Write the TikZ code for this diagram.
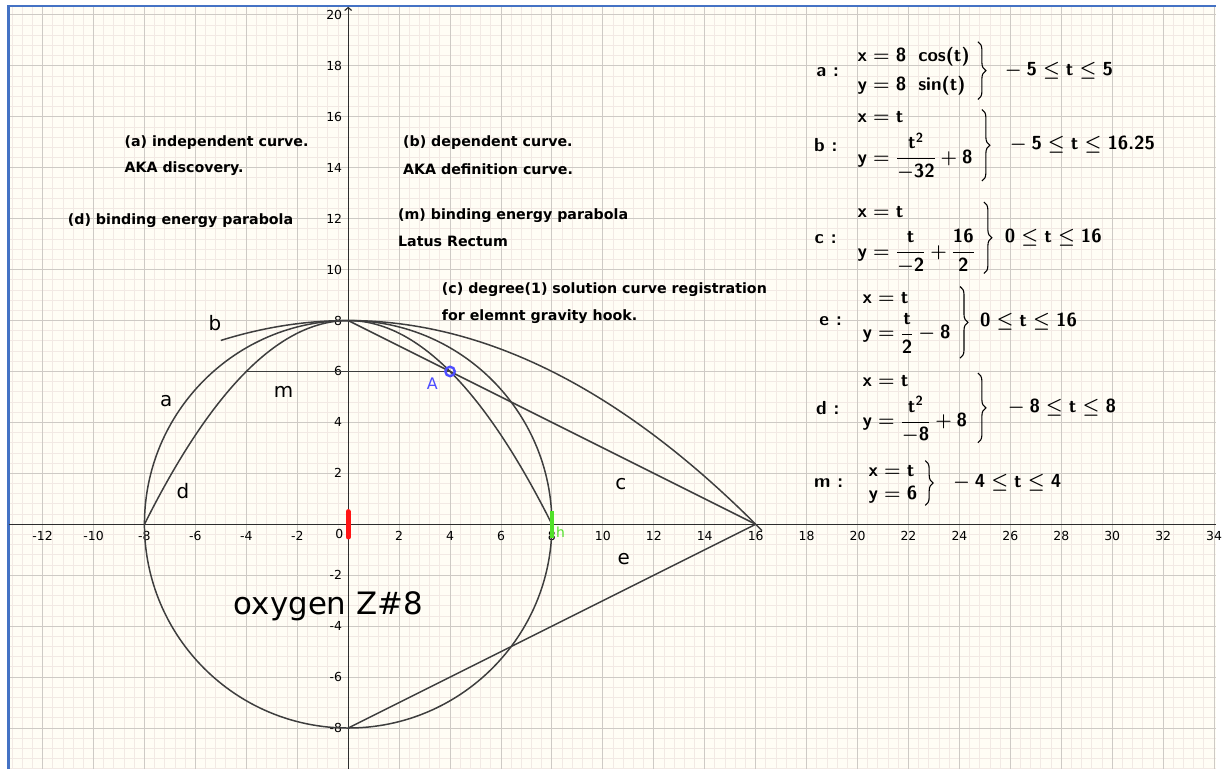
\RequirePackage{fix-cm}
\documentclass[tikz,border=0pt]{standalone}
\usepackage{amsmath}
\usepackage{fontspec}
\newfontfamily\dv{DejaVu Sans}
\usetikzlibrary{arrows.meta,decorations.pathreplacing}
\definecolor{bgc}{RGB}{255,253,245}
\definecolor{minorc}{RGB}{242,233,228}
\definecolor{majorc}{RGB}{206,202,197}
\definecolor{framec}{RGB}{68,114,196}
\definecolor{curvec}{RGB}{62,62,62}
\definecolor{axisc}{RGB}{45,45,45}
\definecolor{ptc}{RGB}{77,77,255}
\definecolor{redc}{RGB}{255,20,20}
\definecolor{greenc}{RGB}{80,225,40}
\newcommand\tx[1]{\text{#1}}
\begin{document}
\begin{tikzpicture}[x=25.6pt,y=25.6pt,
  px/.style={x=1pt,y=-1pt,shift={(-350pt,527pt)}},
  curve/.style={curvec,line width=1.5pt},
  axisline/.style={axisc,line width=1.2pt},
  tick/.style={font=\dv\fontsize{12.5}{15}\selectfont,inner sep=0pt},
  lab/.style={font=\dv\bfseries\fontsize{14.3}{17}\selectfont,anchor=west,inner sep=0pt},
  cl/.style={font=\dv\fontsize{20}{24}\selectfont,inner sep=0pt},
  fm/.style={font=\fontsize{19}{22}\selectfont\sffamily\bfseries\mathversion{bold},inner sep=0pt,anchor=west},
  fname/.style={font=\fontsize{19}{22}\selectfont\sffamily\bfseries,inner sep=0pt},
  brc/.style={draw=black,line width=1.1pt,decorate,decoration={brace,amplitude=8pt}}]
% background and frame
\begin{scope}[px]
  \useasboundingbox (0,0) rectangle (1222,773);
  \fill[white] (0,0) rectangle (1222,773);
  \fill[bgc] (8.7,6.2) rectangle (1222,773);
\end{scope}
\begin{scope}
  \clip (-13.33,-9.61) rectangle (34.07,20.34);
  \draw[minorc,line width=0.9pt,step=0.4] (-13.68,-9.61) grid (34.07,20.59);
  \draw[majorc,line width=1pt,step=2] (-13.68,-9.61) grid (34.07,20.59);
\end{scope}
\begin{scope}[px]
  \draw[framec,line width=2.6pt] (8.7,773) -- (8.7,6.2) -- (1222,6.2);
\end{scope}
% axes
\coordinate (xl) at (-13.33,0);
\coordinate (xr) at (34.07,0);
\coordinate (yb) at (0,-9.61);
\coordinate (yt) at (0,20.32);
\draw[axisline] (xl) -- (xr);
\draw[axisline,-{Straight Barb[length=3pt,width=7pt]}] (yb) -- (yt);
\foreach \v in {-12,-10,...,-2,2,4,...,34} \node[tick] (xt\v) at (\v,-0.45) {\v};
\foreach \v in {-8,-6,-4,-2,2,4,...,20} \node[tick,anchor=east] (yt\v) at (-0.23,\v) {\v};
\node[tick] (orig) at (-0.35,-0.39) {0};
% curves
\coordinate (T) at (0,8);
\coordinate (B) at (0,-8);
\coordinate (F) at (16,0);
\coordinate (ml) at (-4,6);
\coordinate (mr) at (4,6);
\draw[curve] (0,0) circle (8);
\draw[curve,domain=-5:16.25,samples=120,smooth] plot (\x,{8-\x*\x/32});
\draw[curve,domain=-8:8,samples=100,smooth] plot (\x,{8-\x*\x/8});
\draw[curve] (T) -- (F);
\draw[curve] (B) -- (F);
\draw[curve] (ml) -- (mr);
% markers
\coordinate (r1) at (0,0.5);
\coordinate (r2) at (0,-0.5);
\draw[redc,line width=5pt,line cap=round] (r1) -- (r2);
\coordinate (g1) at (8,0.53);
\coordinate (g2) at (8,-0.55);
\draw[greenc,line width=3.6pt] (g1) -- (g2);
\node[circle,draw=ptc,line width=2.4pt,minimum size=9.5pt,inner sep=0pt] (A) at (4,6) {};
\begin{scope}[px]
  \node[font=\dv\fontsize{16}{19}\selectfont,text=ptc,inner sep=0pt] (Alab) at (434.5,385.5) {A};
  \node[font=\dv\fontsize{14}{17}\selectfont,text=greenc,inner sep=0pt] (hlab) at (563.5,535) {h};
  % curve labels
  \node[cl] (lb) at (216,325) {b};
  \node[cl] (la) at (167,403) {a};
  \node[cl] (lm) at (285,394) {m};
  \node[cl] (ld) at (184,494) {d};
  \node[cl] (lc) at (624,487) {c};
  \node[cl] (le) at (627,562) {e};
  \node[font=\dv\fontsize{31}{36}\selectfont,anchor=west,inner sep=0pt] (oxy) at (235,609) {oxygen Z\#8};
  % text labels
  \node[lab] (t1) at (125,143) {(a) independent curve.};
  \node[lab] (t2) at (125,170) {AKA discovery.};
  \node[lab] (t3) at (68,222) {(d) binding energy parabola};
  \node[lab] (t4) at (405,143) {(b) dependent curve.};
  \node[lab] (t5) at (405,170) {AKA definition curve.};
  \node[lab] (t6) at (400,217) {(m) binding energy parabola};
  \node[lab] (t7) at (400,243) {Latus Rectum};
  \node[lab] (t8) at (444,291) {(c) degree(1) solution curve registration};
  \node[lab] (t9) at (444,318) {for elemnt gravity hook.};
  % formula a
  \node[fname] (fa) at (832,72) {a :};
  \node[fm] (fa1) at (862,57) {$\tx{x}=\tx{8}\;\;\tx{cos(t)}$};
  \node[fm] (fa2) at (862,86) {$\tx{y}=\tx{8}\;\;\tx{sin(t)}$};
  \coordinate (fat) at (983,42);
  \coordinate (fab) at (983,100);
  \draw[brc] (fat) -- (fab);
  \node[fm] (far) at (1005,71) {${}-\tx{5}\le\tx{t}\le\tx{5}$};
  % formula b
  \node[fname] (fb) at (830,146) {b :};
  \node[fm] (fb1) at (862,118) {$\tx{x}=\tx{t}$};
  \node[fm] (fb2) at (862,157) {$\tx{y}=\dfrac{\tx{t}^{\tx{2}}}{-\tx{32}}+\tx{8}$};
  \coordinate (fbt) at (987,110);
  \coordinate (fbb) at (987,182);
  \draw[brc] (fbt) -- (fbb);
  \node[fm] (fbr) at (1010,145) {${}-\tx{5}\le\tx{t}\le\tx{16.25}$};
  % formula c
  \node[fname] (fc) at (830,240) {c :};
  \node[fm] (fc1) at (862,213) {$\tx{x}=\tx{t}$};
  \node[fm] (fc2) at (862,253) {$\tx{y}=\dfrac{\tx{t}}{-\tx{2}}+\dfrac{\tx{16}}{\tx{2}}$};
  \coordinate (fct) at (989,203);
  \coordinate (fcb) at (989,275);
  \draw[brc] (fct) -- (fcb);
  \node[fm] (fcr) at (1010,239) {$\tx{0}\le\tx{t}\le\tx{16}$};
  % formula e
  \node[fname] (fe) at (835,323) {e :};
  \node[fm] (fe1) at (867,300) {$\tx{x}=\tx{t}$};
  \node[fm] (fe2) at (867,335) {$\tx{y}=\dfrac{\tx{t}}{\tx{2}}-\tx{8}$};
  \coordinate (fet) at (965,288);
  \coordinate (feb) at (965,360);
  \draw[brc] (fet) -- (feb);
  \node[fm] (fer) at (985,323) {$\tx{0}\le\tx{t}\le\tx{16}$};
  % formula d
  \node[fname] (fd) at (832,410) {d :};
  \node[fm] (fd1) at (867,383) {$\tx{x}=\tx{t}$};
  \node[fm] (fd2) at (867,422) {$\tx{y}=\dfrac{\tx{t}^{\tx{2}}}{-\tx{8}}+\tx{8}$};
  \coordinate (fdt) at (983,375);
  \coordinate (fdb) at (983,445);
  \draw[brc] (fdt) -- (fdb);
  \node[fm] (fdr) at (1008,410) {${}-\tx{8}\le\tx{t}\le\tx{8}$};
  % formula m
  \node[fname] (fmn) at (833,486) {m :};
  \node[fm] (fm1) at (873,473) {$\tx{x}=\tx{t}$};
  \node[fm] (fm2) at (873,497) {$\tx{y}=\tx{6}$};
  \coordinate (fmt) at (930,463);
  \coordinate (fmb) at (930,508);
  \draw[brc] (fmt) -- (fmb);
  \node[fm] (fmr) at (953,485) {${}-\tx{4}\le\tx{t}\le\tx{4}$};
\end{scope}
\end{tikzpicture}
\end{document}
